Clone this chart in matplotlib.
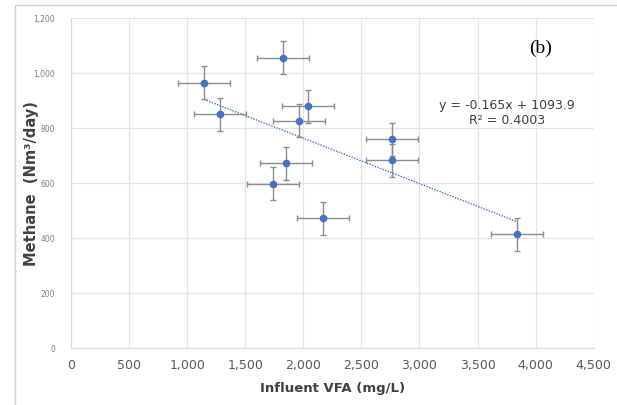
import matplotlib
matplotlib.use("Agg")
import matplotlib.pyplot as plt
import numpy as np
from matplotlib.ticker import FuncFormatter, MultipleLocator
from matplotlib.patches import Rectangle

# Data
vfa = [1145, 1822, 1284, 2043, 1961, 2764, 2764, 1853, 1741, 2171, 3838]
methane = [966, 1056, 851, 880, 827, 761, 684, 673, 598, 473, 415]
vfa_err = [225, 225, 225, 225, 225, 225, 225, 225, 225, 225, 225]
methane_err = [60, 60, 60, 60, 60, 60, 60, 60, 60, 60, 60]
slope = -0.165
intercept = 1093.9
equation_text = "y = -0.165x + 1093.9"
r2_text = "R² = 0.4003"
panel_label = "(b)"
xlabel = "Influent VFA (mg/L)"
ylabel = "Methane  (Nm³/day)"

fig = plt.figure(figsize=(6.17, 4.05), dpi=100)
fig.patches.append(Rectangle((15/617, -0.1), 1.2, (405-5)/405 + 0.1, transform=fig.transFigure,
                             fill=False, edgecolor="#d0d0d0", linewidth=1.0))
ax = fig.add_axes([71/617, 1-348.3/405, (593.7-71)/617, (348.3-18.3)/405])

ax.set_xlim(0, 4500)
ax.set_ylim(0, 1200)
ax.xaxis.set_major_locator(MultipleLocator(500))
ax.yaxis.set_major_locator(MultipleLocator(200))
fmt = FuncFormatter(lambda v, p: f"{int(v):,}")
ax.xaxis.set_major_formatter(fmt)
ax.yaxis.set_major_formatter(fmt)

ax.grid(True, color="#e4e4e4", linewidth=0.9)
ax.set_axisbelow(True)
for s in ["top", "right"]:
    ax.spines[s].set_visible(False)
ax.spines["left"].set_color("#d9d9d9")
ax.spines["bottom"].set_color("#d9d9d9")
ax.tick_params(axis="both", length=0)
ax.tick_params(axis="y", labelsize=5.5, labelcolor="#7f7f7f", pad=11.5)
ax.tick_params(axis="x", labelsize=9, labelcolor="#595959", pad=8)

ax.errorbar(vfa, methane, xerr=vfa_err, yerr=methane_err, fmt="o", color="#4472C4",
            markersize=4.5, ecolor="#8c8c8c", elinewidth=1.0, capsize=2, capthick=1.0, zorder=3)

xs = np.array([min(vfa), max(vfa)])
ax.plot(xs, slope * xs + intercept, linestyle=(0, (1, 1)), color="#4472C4", linewidth=1.0, zorder=2)

ax.set_xlabel(xlabel, fontsize=9.5, fontweight="bold", color="#404040")
ax.set_ylabel(ylabel, fontsize=10.5, fontweight="bold", color="#404040")
ax.xaxis.set_label_coords(0.5, -0.102)
ax.yaxis.set_label_coords(-0.062, 0.5)

ax.text(3753, 855, equation_text + "\n" + r2_text, ha="center", va="center", fontsize=9,
        color="#404040", linespacing=1.25)
ax.text(4046, 1092, panel_label, ha="center", va="center", fontsize=14, color="black",
        family=["Liberation Serif", "DejaVu Serif"])

fig.savefig("out.png", dpi=100)
